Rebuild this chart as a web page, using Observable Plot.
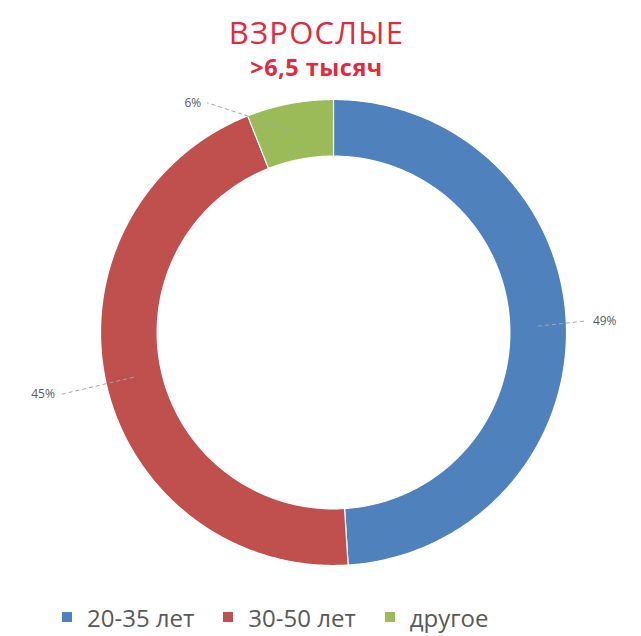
<!DOCTYPE html>
<html><head><meta charset="utf-8">
<script src="https://cdn.jsdelivr.net/npm/d3@7"></script>
<script src="https://cdn.jsdelivr.net/npm/@observablehq/plot@0.6"></script>
<style>
body{margin:0;background:#fff;font-family:"Open Sans",sans-serif;}
#wrap{width:641px;height:636px;position:relative;overflow:hidden;}
#title{height:90px;text-align:center;color:#e02a3e;position:relative;left:-4px;}
#t1{font-size:31px;line-height:30px;padding-top:17px;letter-spacing:1.2px;}
#t2{font-size:23.5px;font-weight:bold;line-height:24px;margin-top:8px;letter-spacing:0.5px;}
#legend{height:46px;display:flex;align-items:center;padding-left:62px;padding-top:8px;box-sizing:border-box;font-size:24px;color:#595959;}
.item{display:flex;align-items:center;margin-right:29px;}
.sw{width:10px;height:10px;margin-right:15px;}
</style></head>
<body><div id="wrap">
<div id="title"><div id="t1">ВЗРОСЛЫЕ</div><div id="t2">&gt;6,5 тысяч</div></div>
<div id="chart"></div>
<div id="legend"></div>
</div>
<script>
const categories = ["20-35 лет", "30-50 лет", "другое"];
const values = [49, 45, 6];
const labels = ["49%", "45%", "6%"];
const colors = ["#4f81bd", "#c0504d", "#9bbb59"];

const R0 = 0.757, R1 = 1;
const total = d3.sum(values);
let cum = 0;
const slices = categories.map((c, i) => {
  const a0 = cum / total * 2 * Math.PI;
  cum += values[i];
  const a1 = cum / total * 2 * Math.PI;
  return {cat: c, a0, a1, label: labels[i]};
});
const pts = [];
for (const s of slices) {
  const n = 240;
  for (let k = 0; k <= n; k++) {
    const a = s.a0 + (s.a1 - s.a0) * k / n;
    pts.push({cat: s.cat, x: R1 * Math.sin(a), y: R1 * Math.cos(a)});
  }
  for (let k = n; k >= 0; k--) {
    const a = s.a0 + (s.a1 - s.a0) * k / n;
    pts.push({cat: s.cat, x: R0 * Math.sin(a), y: R0 * Math.cos(a)});
  }
}
// leader line layout (angle tweak in degrees, outer radius)
const layout = {"20-35 лет": [-0.8, 1.08], "30-50 лет": [-0.2, 1.2], "другое": [-18, 1.125]};
const leaders = slices.map(s => {
  const m = (s.a0 + s.a1) / 2;
  const rm = (R0 + R1) / 2;
  const [tw, ro] = layout[s.cat];
  const e = m + tw * Math.PI / 180;
  const x2 = ro * Math.sin(e), y2 = ro * Math.cos(e);
  return {cat: s.cat, label: s.label, x1: rm * Math.sin(m), y1: rm * Math.cos(m), x2, y2, right: x2 > 0};
});

const chart = Plot.plot({
  width: 641, height: 500,
  marginLeft: 100, marginRight: 75, marginTop: 9, marginBottom: 25,
  x: {domain: [-1, 1], axis: null},
  y: {domain: [-1, 1], axis: null},
  color: {domain: categories, range: colors},
  style: {fontFamily: "Open Sans", fontSize: "12px", background: "white"},
  marks: [
    Plot.line(pts, {x: "x", y: "y", z: "cat", fill: "cat", stroke: "white", strokeWidth: 1.2, curve: "linear-closed"}),
    Plot.link(leaders, {x1: "x1", y1: "y1", x2: "x2", y2: "y2", stroke: "#a6a6a6", strokeWidth: 1, strokeDasharray: "4,3"}),
    Plot.text(leaders.filter(d => d.right), {x: "x2", y: "y2", text: "label", textAnchor: "start", dx: 8, fill: "#595959"}),
    Plot.text(leaders.filter(d => !d.right), {x: "x2", y: "y2", text: "label", textAnchor: "end", dx: -6, fill: "#595959"})
  ]
});
document.getElementById("chart").appendChild(chart);

const leg = d3.select("#legend");
categories.forEach((c, i) => {
  const it = leg.append("div").attr("class", "item");
  it.append("div").attr("class", "sw").style("background", colors[i]);
  it.append("span").text(c);
});
</script></body></html>
